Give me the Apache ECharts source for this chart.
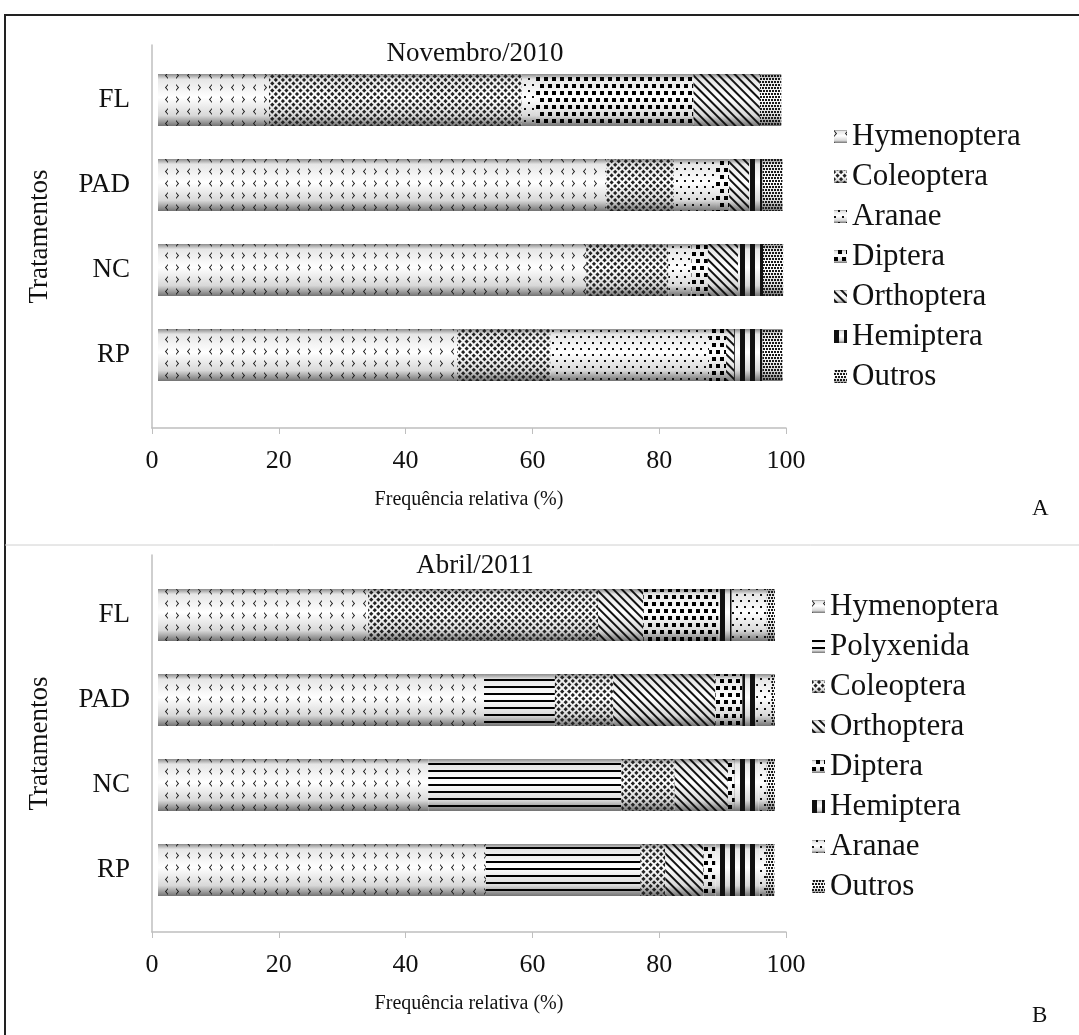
<!DOCTYPE html>
<html>
<head>
<meta charset="utf-8">
<title>Frequência relativa</title>
<script src="https://cdn.jsdelivr.net/npm/echarts/dist/echarts.min.js"></script>
<style>
  html, body { margin: 0; padding: 0; background: #fff; }
  #chart { width: 1079px; height: 1035px; }
</style>
</head>
<body>
<div id="chart"></div>
<script>
// tratamentos, de cima para baixo
const categories = ['FL', 'PAD', 'NC', 'RP'];
const xTicks = [0, 20, 40, 60, 80, 100];

// Novembro/2010 (%), na ordem FL, PAD, NC, RP
const novTaxa = ['Hymenoptera', 'Coleoptera', 'Aranae', 'Diptera', 'Orthoptera', 'Hemiptera', 'Outros'];
const novHymenoptera = [17.7, 71.5, 68.3, 47.7];
const novColeoptera = [40.3, 10.8, 13.1, 14.9];
const novAranae = [2.3, 6.7, 3.7, 25.3];
const novDiptera = [25.1, 2.1, 2.6, 2.7];
const novOrthoptera = [10.6, 3.2, 4.8, 1.3];
const novHemiptera = [0, 2.1, 4.0, 4.5];
const novOutros = [3.4, 3.2, 3.2, 3.2];

// Abril/2011 (%)
const abrTaxa = ['Hymenoptera', 'Polyxenida', 'Coleoptera', 'Orthoptera', 'Diptera', 'Hemiptera', 'Aranae', 'Outros'];
const abrHymenoptera = [33.5, 52.0, 43.1, 52.3];
const abrPolyxenida = [0, 11.3, 30.8, 24.6];
const abrColeoptera = [36.7, 9.3, 8.5, 4.0];
const abrOrthoptera = [7.2, 16.3, 8.5, 6.1];
const abrDiptera = [12.0, 4.3, 1.1, 1.9];
const abrHemiptera = [2.1, 2.2, 3.8, 7.0];
const abrAranae = [5.6, 2.4, 1.3, 1.1];
const abrOutros = [1.3, 0.6, 1.3, 1.3];

const FONT = "'Liberation Serif', 'Times New Roman', serif";

// padroes (decal) de cada grupo
const decals = {
  Hymenoptera: {
    // um par de divisas "> <"
    symbol: 'path://M0,0L3.5,4L0,8L0,6.5L2,4L0,1.5Z M16,0L12.5,4L16,8L16,6.5L14,4L16,1.5Z',
    symbolSize: 1, color: '#1a1a1a',
    dashArrayX: [14, 8], dashArrayY: [7, 5]
  },
  Coleoptera: {
    symbol: 'rect', symbolSize: 1, color: '#222', rotation: Math.PI / 4,
    dashArrayX: [2.4, 1.1], dashArrayY: [2.4, 1.1]
  },
  Aranae: {
    symbol: 'rect', symbolSize: 1, color: '#111',
    dashArrayX: [[2, 6], [0, 4, 2, 2]], dashArrayY: [2, 4]
  },
  Diptera: {
    symbol: 'rect', symbolSize: 1, color: '#000',
    dashArrayX: [[4, 4], [0, 4, 4, 0]], dashArrayY: [4, 3]
  },
  Orthoptera: {
    symbol: 'rect', symbolSize: 1, color: '#111', rotation: Math.PI / 4,
    dashArrayX: [1, 0], dashArrayY: [1.6, 3.2]
  },
  Hemiptera: {
    symbol: 'rect', symbolSize: 1, color: '#111',
    dashArrayX: [4.5, 4.5], dashArrayY: [1, 0]
  },
  Outros: {
    symbol: 'rect', symbolSize: 1, color: '#1a1a1a',
    dashArrayX: [[2, 1], [0, 1, 2, 0]], dashArrayY: [2, 1]
  },
  Polyxenida: {
    symbol: 'rect', symbolSize: 1, color: '#000',
    dashArrayX: [1, 0], dashArrayY: [2, 5]
  }
};

// sombra de cilindro
const cylinder = new echarts.graphic.LinearGradient(0, 0, 0, 1, [
  { offset: 0, color: '#8c8c8c' },
  { offset: 0.1, color: '#e6e6e6' },
  { offset: 0.45, color: '#ffffff' },
  { offset: 0.8, color: '#d8d8d8' },
  { offset: 1, color: '#737373' }
]);

function makeSeries(names, arrays, axisIndex, stack) {
  return names.map((name, i) => ({
    name: name,
    type: 'bar',
    stack: stack,
    xAxisIndex: axisIndex,
    yAxisIndex: axisIndex,
    barWidth: 52,
    data: arrays[i],
    itemStyle: { color: cylinder, decal: decals[name] },
    emphasis: { disabled: true }
  }));
}

const seriesNov = makeSeries(novTaxa,
  [novHymenoptera, novColeoptera, novAranae, novDiptera, novOrthoptera, novHemiptera, novOutros], 0, 'nov');
const seriesAbr = makeSeries(abrTaxa,
  [abrHymenoptera, abrPolyxenida, abrColeoptera, abrOrthoptera, abrDiptera, abrHemiptera, abrAranae, abrOutros], 2, 'abr');

const axisGray = '#bfbfbf';

function barX(gridIndex) {
  return { gridIndex: gridIndex, type: 'value', min: 0, max: 100, show: false };
}
function frameX(gridIndex) {
  return {
    gridIndex: gridIndex, type: 'value', min: xTicks[0], max: xTicks[xTicks.length - 1], interval: 20,
    axisLine: { show: true, lineStyle: { color: axisGray, width: 1.5 } },
    axisTick: { show: true, length: 6, lineStyle: { color: axisGray } },
    axisLabel: { color: '#111', fontFamily: FONT, fontSize: 26, margin: 20 },
    splitLine: { show: false },
    name: 'Frequência relativa (%)', nameLocation: 'middle', nameGap: 62,
    nameTextStyle: { color: '#111', fontFamily: FONT, fontSize: 20 }
  };
}
function barY(gridIndex) {
  return {
    gridIndex: gridIndex, type: 'category', inverse: true, data: categories,
    axisLine: { show: false }, axisTick: { show: false },
    axisLabel: { color: '#111', fontFamily: FONT, fontSize: 27, margin: 28 }
  };
}
function frameY(gridIndex) {
  return {
    gridIndex: gridIndex, type: 'value', min: 0, max: 1,
    axisLine: { show: true, lineStyle: { color: axisGray, width: 1.5 } },
    axisTick: { show: false }, axisLabel: { show: false }, splitLine: { show: false },
    name: 'Tratamentos', nameLocation: 'middle', nameRotate: 90, nameGap: 99,
    nameTextStyle: { color: '#111', fontFamily: FONT, fontSize: 27 }
  };
}

const legendText = { color: '#111', fontFamily: FONT, fontSize: 31, lineHeight: 30 };
const titleText = { fontFamily: FONT, fontSize: 27, fontWeight: 'normal', color: '#111' };

const option = {
  backgroundColor: '#fff',
  animation: false,
  title: [
    { text: 'Novembro/2010', left: 470, top: 35, textAlign: 'center', textStyle: titleText },
    { text: 'Abril/2011', left: 470, top: 547, textAlign: 'center', textStyle: titleText }
  ],
  grid: [
    { left: 158, width: 627, top: 57.5, height: 340 },
    { left: 152, width: 634, top: 45, height: 383 },
    { left: 158, width: 627, top: 572.5, height: 340 },
    { left: 152, width: 634, top: 555, height: 377 }
  ],
  xAxis: [barX(0), frameX(1), barX(2), frameX(3)],
  yAxis: [barY(0), frameY(1), barY(2), frameY(3)],
  legend: [
    { orient: 'vertical', left: 834, top: 121, padding: 0, itemGap: 9,
      itemWidth: 13, itemHeight: 13, icon: 'rect', selectedMode: false,
      data: novTaxa, textStyle: legendText },
    { orient: 'vertical', left: 812, top: 591, padding: 0, itemGap: 9,
      itemWidth: 13, itemHeight: 13, icon: 'rect', selectedMode: false,
      data: abrTaxa, textStyle: legendText }
  ],
  graphic: [
    { type: 'rect', silent: true, shape: { x: 5, y: 15, width: 1100, height: 1100 },
      style: { fill: null, stroke: '#222', lineWidth: 2 } },
    { type: 'line', silent: true, shape: { x1: 5, y1: 545, x2: 1079, y2: 545 },
      style: { stroke: '#d0d0d0', lineWidth: 1 } },
    { type: 'text', left: 1032, top: 497, silent: true,
      style: { text: 'A', fontFamily: FONT, fontSize: 23, fill: '#111' } },
    { type: 'text', left: 1032, top: 1004, silent: true,
      style: { text: 'B', fontFamily: FONT, fontSize: 23, fill: '#111' } }
  ],
  series: seriesNov.concat(seriesAbr)
};

const chart = echarts.init(document.getElementById('chart'));
chart.setOption(option);
</script>
</body>
</html>
